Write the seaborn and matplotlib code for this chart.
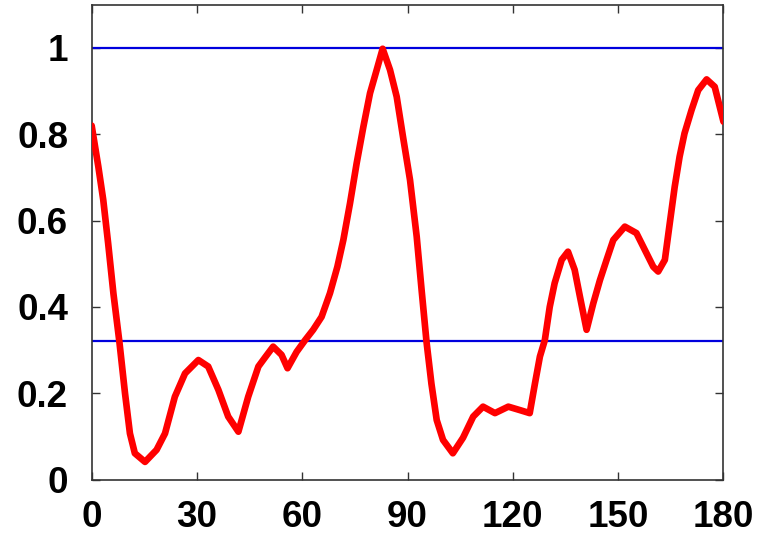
import matplotlib
matplotlib.use("Agg")
import matplotlib.pyplot as plt
import seaborn as sns
import pandas as pd

angle = [0, 1.9, 3.3, 4.7, 6.2, 7.9, 9.5, 10.9, 12.3, 15.2, 18.5, 20.9, 23.7, 26.6, 30.4,
         33.2, 36.1, 38.9, 41.8, 44.6, 47.5, 49.4, 51.7, 54.1, 55.8, 58.4, 60.8, 63.1, 65.5,
         67.9, 70, 71.7, 73.6, 75.5, 77.4, 79.3, 81.2, 82.9, 85, 86.9, 88.7, 90.7, 92.6, 94,
         95.4, 96.8, 98.3, 100.1, 102.9, 105.8, 108.7, 111.5, 114.9, 118.7, 122, 124.8,
         126.3, 127.7, 129.1, 130.5, 131.9, 133.9, 135.7, 137.6, 139.1, 141, 142.9, 144.8,
         146.7, 148.6, 151.9, 155.2, 157.6, 160, 161.4, 163.3, 164.7, 166.1, 167.5, 168.9,
         170.9, 172.8, 175.2, 177.5, 180]
value = [0.82, 0.725, 0.648, 0.547, 0.431, 0.319, 0.2, 0.107, 0.061, 0.041, 0.069, 0.107,
         0.192, 0.246, 0.277, 0.262, 0.208, 0.146, 0.111, 0.192, 0.262, 0.283, 0.308, 0.289,
         0.258, 0.296, 0.323, 0.347, 0.377, 0.432, 0.493, 0.555, 0.64, 0.733, 0.817, 0.895,
         0.949, 0.998, 0.949, 0.887, 0.794, 0.694, 0.563, 0.439, 0.319, 0.222, 0.138, 0.092,
         0.061, 0.097, 0.146, 0.169, 0.154, 0.169, 0.161, 0.154, 0.223, 0.285, 0.323, 0.4,
         0.455, 0.509, 0.528, 0.486, 0.424, 0.347, 0.408, 0.462, 0.509, 0.555, 0.586, 0.571,
         0.532, 0.493, 0.482, 0.509, 0.594, 0.678, 0.748, 0.802, 0.856, 0.902, 0.927, 0.91,
         0.829]
hlines = [1.0, 0.32]
xticks = [0, 30, 60, 90, 120, 150, 180]
yticks = [0, 0.2, 0.4, 0.6, 0.8, 1.0]
ytick_labels = ["0", "0.2", "0.4", "0.6", "0.8", "1"]

sns.set_style("ticks")
plt.rcParams['font.family'] = ['Liberation Sans', 'DejaVu Sans']

fig = plt.figure(figsize=(7.69, 5.42), dpi=100)
ax = fig.add_axes([0.1192, 0.1151, 0.8216, 0.8762])

df = pd.DataFrame({"angle": angle, "value": value})
for h in hlines:
    ax.axhline(h, color="#0000dd", lw=1.6, zorder=1)
sns.lineplot(data=df, x="angle", y="value", ax=ax, color="#ff0000", lw=4.8, zorder=3,
             solid_joinstyle="round", solid_capstyle="round")

ax.set_xlim(0, 180)
ax.set_ylim(0, 1.1)
ax.set_xticks(xticks)
ax.set_yticks(yticks)
ax.set_yticklabels(ytick_labels)
ax.set_xlabel("")
ax.set_ylabel("")
ax.tick_params(direction="in", length=6, width=1, top=True, right=True,
               labelsize=26.5, colors="#333333", labelcolor="black")
ax.tick_params(axis="y", pad=17)
ax.tick_params(axis="x", pad=15)
for lab in ax.get_xticklabels() + ax.get_yticklabels():
    lab.set_fontweight("bold")
for s in ax.spines.values():
    s.set_color("#333333")
    s.set_linewidth(1.2)

fig.savefig("out.png", dpi=100)
